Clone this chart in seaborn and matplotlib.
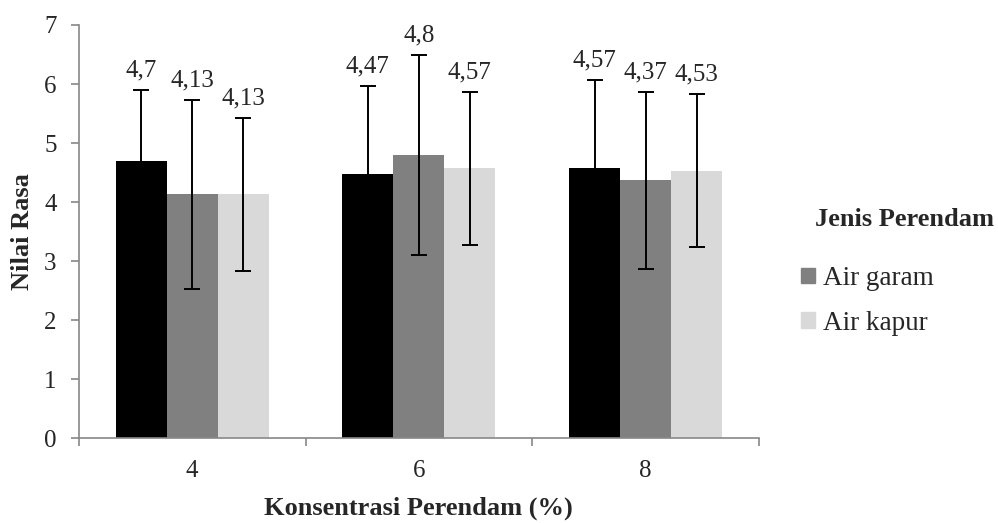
import matplotlib
matplotlib.use('Agg')
import matplotlib.pyplot as plt
import matplotlib.patches as mpatches
import seaborn as sns
import pandas as pd
import numpy as np

# data
konsentrasi = ['4', '6', '8']
perendam = ['Kontrol', 'Air garam', 'Air kapur']
nilai = {
    'Kontrol':   [4.70, 4.47, 4.57],
    'Air garam': [4.13, 4.80, 4.37],
    'Air kapur': [4.13, 4.57, 4.53],
}
sd = {
    'Kontrol':   [1.20, 1.50, 1.50],
    'Air garam': [1.60, 1.70, 1.50],
    'Air kapur': [1.30, 1.30, 1.30],
}
label = {
    'Kontrol':   ['4,7', '4,47', '4,57'],
    'Air garam': ['4,13', '4,8', '4,37'],
    'Air kapur': ['4,13', '4,57', '4,53'],
}
warna = ['#000000', '#808080', '#D9D9D9']

rows = []
for p in perendam:
    for i, k in enumerate(konsentrasi):
        rows.append({'Konsentrasi': k, 'Perendam': p, 'Nilai': nilai[p][i]})
df = pd.DataFrame(rows)

sns.set_style('white')
plt.rcParams['font.family'] = ['Liberation Serif', 'DejaVu Serif']

fig = plt.figure(figsize=(9.98, 5.23), dpi=100)
ax = fig.add_axes([0.079, 0.1625, 0.6814, 0.7897])

sns.barplot(data=df, x='Konsentrasi', y='Nilai', hue='Perendam', order=konsentrasi,
            hue_order=perendam, palette=warna, errorbar=None, width=0.675,
            saturation=1, linewidth=0, ax=ax, legend=False)

# error bars + value labels on each bar
for cont, p in zip(ax.containers, perendam):
    for j, bar in enumerate(cont):
        x = bar.get_x() + bar.get_width() / 2
        y = bar.get_height()
        ax.errorbar(x, y, yerr=sd[p][j], color='black', capsize=6,
                    elinewidth=1.4, capthick=1.4, fmt='none')
        ax.annotate(label[p][j], (x, y + sd[p][j]), xytext=(0, 6),
                    textcoords='offset points', ha='center', va='bottom', fontsize=18)

ax.set_ylim(0, 7)
ax.set_xlim(-0.5, 2.5)
ax.set_yticks(range(0, 8))
ax.set_xticks(np.arange(-0.5, 3.0, 1.0), minor=True)
ax.tick_params(axis='x', which='major', length=0, labelsize=18, pad=16)
ax.tick_params(axis='x', which='minor', length=6, width=1.2, color='#888888', bottom=True)
ax.tick_params(axis='y', length=6, width=1.2, color='#888888', labelsize=18, pad=10, left=True)
for s in ['top', 'right']:
    ax.spines[s].set_visible(False)
for s in ['left', 'bottom']:
    ax.spines[s].set_color('#888888')
    ax.spines[s].set_linewidth(1.2)

ax.set_xlabel('Konsentrasi Perendam (%)', fontsize=19, fontweight='bold', labelpad=10)
ax.set_ylabel('Nilai Rasa', fontsize=19, fontweight='bold', labelpad=7)

# legend: only the two soaking solutions are listed
fig.text(815 / 998, 1 - 220 / 523, 'Jenis Perendam', ha='left', va='center',
         fontsize=19, fontweight='bold')
handles = [mpatches.Patch(color=warna[1], label=perendam[1]),
           mpatches.Patch(color=warna[2], label=perendam[2])]
fig.legend(handles=handles, loc='upper left', bbox_to_anchor=(801 / 998, 1 - 266 / 523),
           frameon=False, fontsize=19.5, borderpad=0, borderaxespad=0,
           handlelength=0.52, handleheight=0.52, handletextpad=0.28,
           labelspacing=0.72)

plt.savefig('out.png', dpi=100)
